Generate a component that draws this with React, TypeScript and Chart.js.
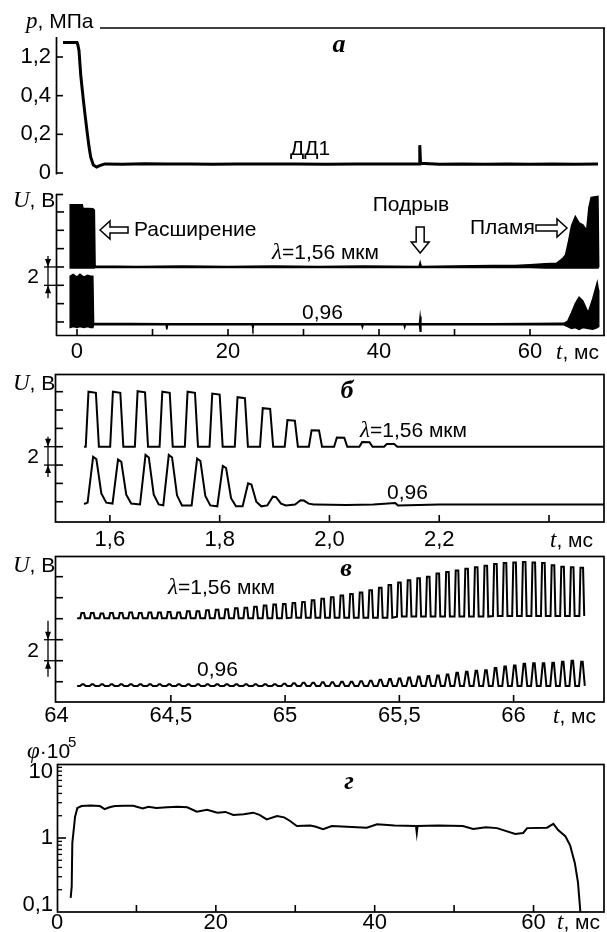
import React, { useEffect, useRef } from "react";
import { Chart, registerables } from "chart.js";

Chart.register(...registerables);

const PAGE_W = 607;
const PAGE_H = 932;
const SANS = '"Liberation Sans", Arial, sans-serif';
const SERIF = '"Liberation Serif", "Times New Roman", serif';
const F_TEXT = `21px ${SANS}`;
const F_SUP = `15px ${SANS}`;
const F_ITAL = `italic 23px ${SERIF}`;
const F_LETTER = `italic bold 26px ${SERIF}`;

// ---------------- Panel а : pressure p (MPa) vs t (ms) ----------------
const pressureTicks = [0, 0.2, 0.4, 1.2];
const pressureTickLabels = ["0", "0,2", "0,4", "1,2"];
const pressureKnots = [0, 0.2, 0.4, 1.2, 1.6]; // axis is drawn with equal spacing between labelled values
const aPressure: [number, number][] = [
  [-1.85, 1.35], [-1.0, 1.35], [0.0, 1.35], [0.1, 1.33], [0.26, 1.27], [0.5, 0.82],
  [0.84, 0.378], [1.1, 0.29], [1.36, 0.206], [1.6, 0.134], [1.81, 0.083], [2.16, 0.041],
  [2.6, 0.031], [3.0, 0.038], [3.7, 0.047], [6, 0.045], [9, 0.048], [12, 0.046],
  [15, 0.047], [18, 0.045], [21, 0.047], [25, 0.046], [29, 0.047], [33, 0.045],
  [37, 0.047], [41, 0.046], [45.3, 0.046], [45.4, 0.144], [45.5, 0.05], [48, 0.045],
  [51, 0.047], [54, 0.045], [57, 0.047], [60, 0.045], [63, 0.047], [66, 0.045], [69.0, 0.046],
];

// Panel а : U envelopes [t, max, min] (dense oscillation drawn as a filled band)
const aUpperEnv: [number, number, number][] = [
  [-0.9, 6.0, 6.0], [-0.9, 12.8, 5.9], [0.7, 12.8, 5.9], [0.8, 12.4, 5.9], [2.1, 12.35, 5.9],
  [2.3, 12.2, 5.9], [2.4, 6.1, 5.95], [8, 6.05, 5.95], [14, 6.1, 5.95], [20, 6.05, 5.95],
  [26, 6.1, 5.95], [32, 6.05, 5.95], [38, 6.1, 5.95], [45.3, 6.05, 5.95], [45.45, 6.5, 5.95],
  [45.6, 6.05, 5.95], [50, 6.1, 5.95], [55, 6.15, 5.95], [58, 6.15, 5.95], [60, 6.25, 5.95],
  [62, 6.35, 5.9], [63.5, 6.4, 5.9], [64.3, 6.9, 5.9], [64.7, 7.3, 5.9], [65.1, 8.8, 5.9],
  [65.5, 10.5, 5.9], [66.0, 11.5, 5.9], [66.5, 10.8, 5.9], [67.0, 10.6, 5.9], [67.5, 10.0, 5.9],
  [67.8, 12.5, 5.9], [68.1, 13.6, 5.9], [69.0, 13.7, 5.9], [69.1, 6.0, 6.0],
];
const aLowerEnv: [number, number, number][] = [
  [-0.9, -0.2, -0.2], [-0.9, 5.0, -0.6], [-0.5, 5.2, -0.5], [0.0, 4.9, -0.6], [0.4, 5.2, -0.5],
  [0.9, 4.9, -0.6], [1.4, 5.1, -0.5], [1.8, 5.0, -0.6], [2.1, 5.0, -0.6], [2.2, -0.15, -0.3],
  [11.8, -0.2, -0.3], [11.9, -0.2, -0.8], [12.0, -0.2, -0.3], [23.2, -0.2, -0.3], [23.3, -0.2, -0.7],
  [23.4, -0.2, -0.3], [37.7, -0.2, -0.3], [37.8, -0.2, -0.6], [37.9, -0.2, -0.3], [43.3, -0.2, -0.3],
  [43.4, -0.2, -0.6], [43.5, -0.2, -0.3], [45.35, -0.2, -0.3], [45.45, 0.6, -1.0], [45.55, -0.2, -0.3],
  [55, -0.2, -0.3], [64.5, -0.15, -0.3], [65.0, 0.1, -0.5], [65.5, 1.0, -0.7], [66.0, 2.0, -0.6],
  [66.5, 2.7, -0.8], [67.0, 2.3, -0.6], [67.7, 1.0, -0.7], [68.3, 2.5, -0.8], [68.9, 4.3, -0.6],
  [69.05, 3.5, -0.5], [69.1, -0.2, -0.2],
];
const aXTicks = [0, 10, 20, 30, 40, 50, 60];
const aXLabelled = [0, 20, 40, 60];
const uTicksA = [0, 2, 4, 6, 8, 10, 12];

// ---------------- Panel б ----------------
const bUpperPeakT = [1.5685, 1.613, 1.658, 1.703, 1.749, 1.794, 1.84, 1.886, 1.931, 1.975, 2.021, 2.067, 2.112];
const bUpperPeakU = [12.0, 12.0, 12.05, 12.0, 12.0, 11.8, 11.4, 10.2, 8.9, 7.8, 7.0, 6.5, 6.3];
const bUpperValley = [6.0, 6.0, 6.0, 6.0, 6.0, 6.0, 6.0, 6.0, 6.0, 6.0, 6.0, 6.0, 6.0];
const bLowerPeakT = [1.5714, 1.6168, 1.6669, 1.7093, 1.7609, 1.8077, 1.8538, 1.8988, 1.9493];
const bLowerPeakU = [4.9, 4.6, 5.1, 5.1, 4.7, 3.9, 2.0, 0.55, 0.15];
const bLowerValley = [-0.1, -0.2, -0.3, -0.4, -0.4, -0.5, -0.5, -0.4, -0.3];
const bLowerTail: [number, number][] = [[1.975, -0.3], [2.03, -0.35], [2.08, -0.3], [2.12, -0.15], [2.125, -0.4], [2.2, -0.3], [2.5, -0.3]];
const bXTicks = [1.6, 1.8, 2.0, 2.2, 2.4];
const uTicksB = [0, 2, 4, 6, 8, 10, 12];

// ---------------- Panel в ----------------
const vFirstCenter = 64.115;
const vPeriod = 0.042;
const vUpperPeaks = [
  6.55, 6.55, 6.5, 6.55, 6.55, 6.6, 6.55, 6.6, 6.6, 6.65,
  6.6, 6.7, 6.7, 6.8, 6.85, 6.9, 7.0, 7.05, 7.15, 7.25,
  7.35, 7.4, 7.5, 7.6, 7.75, 7.9, 8.05, 8.2, 8.35, 8.5,
  8.7, 8.95, 9.2, 9.45, 9.65, 9.85, 10.0, 10.3, 10.45, 10.6,
  10.75, 10.9, 11.05, 11.2, 11.3, 11.35, 11.4, 11.35, 11.3, 11.1,
  10.95, 10.9, 10.85,
];
const vUpperValleys = [
  6.05, 6.05, 6.05, 6.05, 6.05, 6.05, 6.05, 6.05, 6.05, 6.05,
  6.05, 6.05, 6.05, 6.05, 6.05, 6.05, 6.05, 6.05, 6.05, 6.05,
  6.05, 6.05, 6.1, 6.1, 6.1, 6.1, 6.1, 6.1, 6.1, 6.1,
  6.1, 6.1, 6.1, 6.2, 6.2, 6.2, 6.2, 6.2, 6.2, 6.2,
  6.2, 6.2, 6.2, 6.25, 6.25, 6.25, 6.25, 6.25, 6.25, 6.25,
  6.25, 6.25, 6.25,
];
const vLowerPeaks = [
  -0.25, -0.25, -0.25, -0.25, -0.25, -0.25, -0.25, -0.25, -0.25, -0.25,
  -0.25, -0.25, -0.25, -0.25, -0.25, -0.25, -0.25, -0.25, -0.25, -0.25,
  -0.25, -0.2, -0.15, -0.1, -0.1, -0.05, -0.05, 0.0, 0.0, 0.05,
  0.1, 0.2, 0.25, 0.3, 0.4, 0.5, 0.55, 0.6, 0.7, 0.85,
  0.95, 1.05, 1.1, 1.3, 1.45, 1.55, 1.7, 1.75, 1.75, 1.8,
  1.9, 2.0, 1.9,
];
const vLowerValley = -0.4;
const vXTicks = [64, 64.5, 65, 65.5, 66];
const uTicksV = [0, 2, 4, 6, 8, 10];

// ---------------- Panel г : φ·10^5 (log) ----------------
const gPhi: [number, number][] = [
  [1.72, 0.155], [1.85, 0.22], [1.93, 0.86], [2.14, 1.4], [2.27, 1.92], [2.56, 2.54], [3.1, 2.7],
  [4.2, 2.75], [5.4, 2.7], [6.0, 2.46], [6.6, 2.6], [7.3, 2.7], [8.5, 2.72], [9.6, 2.73],
  [10.8, 2.5], [11.5, 2.65], [12.5, 2.55], [13.9, 2.6], [15.2, 2.65], [16.4, 2.6], [17.6, 2.27],
  [18.9, 2.4], [20.2, 2.2], [21.2, 2.25], [22.2, 2.05], [23.5, 2.1], [24.7, 2.2], [25.5, 2.05],
  [26.4, 1.78], [27.7, 1.98], [28.6, 1.9], [29.3, 1.71], [30.2, 1.45], [31.9, 1.47], [32.6, 1.42],
  [33.5, 1.32], [34.6, 1.45], [36.5, 1.42], [39.0, 1.38], [40.3, 1.53], [42.5, 1.47], [45.2, 1.45],
  [45.3, 1.17], [45.4, 1.45], [48, 1.48], [51.1, 1.45], [52.4, 1.32], [54, 1.4], [55.4, 1.36],
  [57.7, 1.13], [58.7, 1.17], [59.2, 1.36], [61.7, 1.38], [62.5, 1.55], [63.1, 1.28], [64.0, 1.06],
  [64.6, 0.8], [65.2, 0.46], [65.6, 0.25], [65.9, 0.1],
];
const gXTicks = [0, 10, 20, 30, 40, 50, 60];
const gMajorY = [0.1, 1, 10];
const gMajorLabels = ["0,1", "1", "10"];
const gMinorY = [0.2, 0.3, 0.4, 0.5, 0.6, 0.7, 0.8, 0.9, 2, 3, 4, 5, 6, 7, 8, 9];

// ---------------- helpers ----------------
function pToAxis(p: number) {
  for (let i = 1; i < pressureKnots.length; i++) {
    if (p <= pressureKnots[i] || i === pressureKnots.length - 1) {
      const a = pressureKnots[i - 1];
      const b = pressureKnots[i];
      return i - 1 + (p - a) / (b - a);
    }
  }
  return 0;
}

function buildWave(centers: number[], peaks: number[], valleys: number[], shape: [number, number][], lead: [number, number][], tail: [number, number][]) {
  const pts: [number, number][] = [...lead];
  centers.forEach((c, i) => {
    for (const [dt, f] of shape) pts.push([c + dt, valleys[i] + f * (peaks[i] - valleys[i])]);
  });
  return pts.concat(tail);
}

const line = (pts: [number, number][], w = 2, extra: any = {}) => ({
  data: pts.map(([x, y]) => ({ x, y })),
  borderColor: "#000",
  backgroundColor: "#000",
  borderWidth: w,
  pointRadius: 0,
  tension: 0,
  fill: false,
  ...extra,
});

function seg(ctx: CanvasRenderingContext2D, x1: number, y1: number, x2: number, y2: number) {
  ctx.beginPath();
  ctx.moveTo(x1, y1);
  ctx.lineTo(x2, y2);
  ctx.stroke();
}
function poly(ctx: CanvasRenderingContext2D, pts: [number, number][], fill = false) {
  ctx.beginPath();
  pts.forEach(([x, y], i) => (i ? ctx.lineTo(x, y) : ctx.moveTo(x, y)));
  ctx.closePath();
  if (fill) ctx.fill();
  else ctx.stroke();
}
function rich(ctx: CanvasRenderingContext2D, x: number, y: number, parts: [string, string][]) {
  ctx.textAlign = "left";
  ctx.textBaseline = "alphabetic";
  let cx = x;
  for (const [t, f] of parts) {
    ctx.font = f;
    ctx.fillText(t, cx, y);
    cx += ctx.measureText(t).width;
  }
}
function text(ctx: CanvasRenderingContext2D, s: string, x: number, y: number, font = F_TEXT, align: CanvasTextAlign = "left") {
  ctx.font = font;
  ctx.textAlign = align;
  ctx.textBaseline = "middle";
  ctx.fillText(s, x, y);
}
function arrowLeft(ctx: CanvasRenderingContext2D, tipX: number, tailX: number, y: number) {
  const hl = 10, hh = 9, sh = 3;
  poly(ctx, [[tipX, y], [tipX + hl, y - hh], [tipX + hl, y - sh], [tailX, y - sh], [tailX, y + sh], [tipX + hl, y + sh], [tipX + hl, y + hh]]);
}
function arrowRight(ctx: CanvasRenderingContext2D, tailX: number, tipX: number, y: number) {
  const hl = 10, hh = 9, sh = 3;
  poly(ctx, [[tipX, y], [tipX - hl, y - hh], [tipX - hl, y - sh], [tailX, y - sh], [tailX, y + sh], [tipX - hl, y + sh], [tipX - hl, y + hh]]);
}
function arrowDown(ctx: CanvasRenderingContext2D, x: number, tailY: number, tipY: number) {
  const hl = 11, hh = 9, sh = 4;
  poly(ctx, [[x, tipY], [x - hh, tipY - hl], [x - sh, tipY - hl], [x - sh, tailY], [x + sh, tailY], [x + sh, tipY - hl], [x + hh, tipY - hl]]);
}
function scaleBar(ctx: CanvasRenderingContext2D, axisX: number, ya: number, yb: number, upExt: number, downExt: number) {
  const x = 48;
  ctx.lineWidth = 1.3;
  seg(ctx, x - 4, ya, axisX, ya);
  seg(ctx, x - 4, yb, axisX, yb);
  seg(ctx, x, ya - upExt, x, yb + downExt);
  poly(ctx, [[x, ya], [x - 3, ya - 8], [x + 3, ya - 8]], true);
  poly(ctx, [[x, yb], [x - 3, yb + 8], [x + 3, yb + 8]], true);
  text(ctx, "2", 33, (ya + yb) / 2 + 1, F_TEXT, "center");
}
function frame(ctx: CanvasRenderingContext2D, ch: any) {
  const { left, right, top, bottom } = ch.chartArea;
  ctx.lineWidth = 1.7;
  ctx.strokeRect(left + 0.5, top + 0.5, right - left - 1.5, bottom - top - 0.5);
}
function xInnerTicks(ctx: CanvasRenderingContext2D, ch: any, ticks: number[], len = 7) {
  const xs = ch.scales.x;
  const { left, right, bottom } = ch.chartArea;
  ctx.lineWidth = 1.6;
  for (const v of ticks) {
    const x = xs.getPixelForValue(v);
    if (x <= left + 2 || x >= right - 2) continue;
    seg(ctx, x, bottom, x, bottom - len);
  }
}
function yInnerTicks(ctx: CanvasRenderingContext2D, ch: any, ticks: number[], len = 8) {
  const ys = ch.scales.y;
  const { left, top, bottom } = ch.chartArea;
  ctx.lineWidth = 1.6;
  for (const v of ticks) {
    const y = ys.getPixelForValue(v);
    if (y <= top + 1 || y >= bottom - 1) continue;
    seg(ctx, left, y, left + len, y);
  }
}
function tLabel(ctx: CanvasRenderingContext2D, x: number, baseline: number) {
  rich(ctx, x, baseline, [["t", F_ITAL], [", мс", F_TEXT]]);
}
function uLabel(ctx: CanvasRenderingContext2D, baseline: number) {
  rich(ctx, 13, baseline, [["U", F_ITAL], [", В", F_TEXT]]);
}
function lambdaLabel(ctx: CanvasRenderingContext2D, x: number, baseline: number) {
  rich(ctx, x, baseline, [["λ", F_ITAL], ["=1,56 мкм", F_TEXT]]);
}

type Spec = {
  top: number;
  height: number;
  area: { left: number; right: number; top: number; bottom: number };
  x: { min: number; max: number; ticks: number[]; label: (v: number) => string; pad: number; show: boolean };
  y: { type: string; min: number; max: number; ticks: number[]; label?: (v: number, i: number) => string; pad: number };
  datasets: any[];
  decor: (ctx: CanvasRenderingContext2D, ch: any, oy: number) => void;
};

function makeConfig(spec: Spec): any {
  const { top, height, area } = spec;
  const xH = top + height - area.bottom;
  const tickFont = { family: SANS, size: 22, lineHeight: 1 };
  return {
    type: "line",
    data: { datasets: spec.datasets },
    options: {
      responsive: false,
      animation: false,
      devicePixelRatio: 1,
      events: [],
      layout: { padding: { left: 0, right: PAGE_W - area.right, top: area.top - top, bottom: 0 } },
      plugins: { legend: { display: false }, tooltip: { enabled: false } },
      scales: {
        x: {
          type: "linear",
          min: spec.x.min,
          max: spec.x.max,
          display: spec.x.show,
          grid: { display: false, drawTicks: false },
          border: { display: false },
          afterBuildTicks: (s: any) => {
            s.ticks = spec.x.ticks.map((v) => ({ value: v }));
          },
          afterFit: (s: any) => {
            s.height = xH;
            s.paddingLeft = 0;
            s.paddingRight = 0;
          },
          ticks: {
            display: spec.x.show,
            autoSkip: false,
            maxRotation: 0,
            minRotation: 0,
            padding: spec.x.pad,
            color: "#000",
            font: tickFont,
            callback: (v: any) => spec.x.label(Number(v)),
          },
        },
        y: {
          type: spec.y.type,
          min: spec.y.min,
          max: spec.y.max,
          grid: { display: false, drawTicks: false },
          border: { display: false },
          afterBuildTicks: (s: any) => {
            s.ticks = spec.y.ticks.map((v) => ({ value: v }));
          },
          afterFit: (s: any) => {
            s.width = area.left;
            s.paddingTop = 0;
            s.paddingBottom = 0;
          },
          ticks: {
            display: !!spec.y.label,
            padding: spec.y.pad,
            color: "#000",
            font: tickFont,
            autoSkip: false,
            callback: (v: any, i: number) => (spec.y.label ? spec.y.label(Number(v), i) : ""),
          },
        },
      },
    },
    plugins: [
      {
        id: "decor",
        afterDraw: (ch: any) => {
          const ctx = ch.ctx as CanvasRenderingContext2D;
          ctx.save();
          ctx.strokeStyle = "#000";
          ctx.fillStyle = "#000";
          spec.decor(ctx, ch, top);
          ctx.restore();
        },
      },
    ],
  };
}

// ---------------- specs ----------------
const aXRange = { min: -2.78, max: 69.93 };

const specPressure: Spec = {
  top: 0,
  height: 185,
  area: { left: 56, right: 605, top: 28, bottom: 173 },
  x: { ...aXRange, ticks: aXTicks, label: () => "", pad: 0, show: false },
  y: {
    type: "linear",
    min: 0,
    max: 3.75,
    ticks: pressureTicks.map(pToAxis),
    label: (_v, i) => pressureTickLabels[i],
    pad: 5,
  },
  datasets: [line(aPressure.map(([t, p]) => [t, pToAxis(p)] as [number, number]), 3)],
  decor: (ctx, ch) => {
    const { left, right, top, bottom } = ch.chartArea;
    const ys = ch.scales.y;
    ctx.lineWidth = 1.7;
    seg(ctx, 100, top, right, top);
    seg(ctx, right - 1, top, right - 1, ch.height);
    seg(ctx, left + 0.5, 37, left + 0.5, bottom + 1.5);
    ctx.lineWidth = 1.6;
    for (const p of pressureTicks) {
      const y = ys.getPixelForValue(pToAxis(p));
      seg(ctx, left, y, left + 7, y);
    }
    rich(ctx, 26, 28, [["p", F_ITAL], [", МПа", F_TEXT]]);
    text(ctx, "а", 339, 45, F_LETTER, "center");
    text(ctx, "ДД1", 310, 149, F_TEXT, "center");
  },
};

const specAU: Spec = {
  top: 185,
  height: 185,
  area: { left: 56, right: 605, top: 194, bottom: 336 },
  x: { ...aXRange, ticks: aXTicks, label: (v) => (aXLabelled.includes(v) ? String(v) : ""), pad: 5, show: true },
  y: { type: "linear", min: -1.53, max: 13.96, ticks: uTicksA, pad: 0 },
  datasets: [
    line(aUpperEnv.map(([t, mx]) => [t, mx] as [number, number]), 1.5, { fill: "+1" }),
    line(aUpperEnv.map(([t, , mn]) => [t, mn] as [number, number]), 1.5),
    line(aLowerEnv.map(([t, mx]) => [t, mx] as [number, number]), 1.5, { fill: "+1" }),
    line(aLowerEnv.map(([t, , mn]) => [t, mn] as [number, number]), 1.5),
  ],
  decor: (ctx, ch, oy) => {
    const L = (y: number) => y - oy;
    const { left, right, top, bottom } = ch.chartArea;
    const ys = ch.scales.y;
    const xs = ch.scales.x;
    ctx.lineWidth = 1.7;
    seg(ctx, left + 0.5, top, left + 0.5, bottom);
    seg(ctx, left, top + 0.5, left + 7, top + 0.5);
    seg(ctx, right - 1, 0, right - 1, bottom);
    seg(ctx, left, bottom - 0.5, right, bottom - 0.5);
    yInnerTicks(ctx, ch, uTicksA);
    xInnerTicks(ctx, ch, aXTicks);
    uLabel(ctx, L(207));
    scaleBar(ctx, left, ys.getPixelForValue(6), ys.getPixelForValue(4), 11, 13);
    ctx.lineWidth = 1.5;
    arrowLeft(ctx, 100, 128, L(230));
    text(ctx, "Расширение", 134, L(230));
    text(ctx, "Подрыв", 411, L(205), F_TEXT, "center");
    arrowDown(ctx, xs.getPixelForValue(45.45), L(227), L(253));
    text(ctx, "Пламя", 470, L(228));
    arrowRight(ctx, 536, 567, L(228));
    lambdaLabel(ctx, 272, L(259));
    text(ctx, "0,96", 302, L(313));
    tLabel(ctx, 556, L(359));
  },
};

const specB: Spec = {
  top: 370,
  height: 185,
  area: { left: 55, right: 605, top: 374, bottom: 522 },
  x: { min: 1.5, max: 2.502, ticks: bXTicks, label: (v) => (v === 2.4 ? "" : v.toFixed(1).replace(".", ",")), pad: 7, show: true },
  y: { type: "linear", min: -2.21, max: 13.93, ticks: uTicksB, pad: 0 },
  datasets: [
    line(
      buildWave(bUpperPeakT, bUpperPeakU, bUpperValley,
        [[-0.0125, 0], [-0.0075, 1], [0.006, 0.98], [0.0115, 0]],
        [[1.553, 6.0]], [[2.13, 6.0], [2.5, 6.0]])
    ),
    line(
      buildWave(bLowerPeakT, bLowerPeakU, bLowerValley,
        [[-0.012, 0], [-0.006, 0.6], [-0.002, 1], [0.004, 0.95], [0.013, 0.2], [0.022, 0]],
        [[1.553, -0.25]], bLowerTail)
    ),
  ],
  decor: (ctx, ch, oy) => {
    const L = (y: number) => y - oy;
    const ys = ch.scales.y;
    frame(ctx, ch);
    yInnerTicks(ctx, ch, uTicksB);
    xInnerTicks(ctx, ch, bXTicks);
    uLabel(ctx, L(390));
    scaleBar(ctx, ch.chartArea.left, ys.getPixelForValue(6), ys.getPixelForValue(4), 10, 12);
    text(ctx, "б", 347, L(391), F_LETTER, "center");
    lambdaLabel(ctx, 360, L(437));
    text(ctx, "0,96", 387, L(493));
    tLabel(ctx, 550, L(547));
  },
};

const vCenters = vUpperPeaks.map((_, i) => vFirstCenter + i * vPeriod);
const specV: Spec = {
  top: 555,
  height: 180,
  area: { left: 55, right: 605, top: 556, bottom: 702 },
  x: { min: 63.993, max: 66.4, ticks: vXTicks, label: (v) => String(v).replace(".", ","), pad: 3, show: true },
  y: { type: "linear", min: -1.93, max: 11.97, ticks: uTicksV, pad: 0 },
  datasets: [
    line(
      buildWave(vCenters, vUpperPeaks, vUpperValleys,
        [[-0.0113, 0], [-0.0063, 1], [0.005, 1], [0.0101, 0]],
        [[64.09, 6.05]], [])
    ),
    line(
      buildWave(vCenters, vLowerPeaks, vCenters.map(() => vLowerValley),
        [[-0.0126, 0], [-0.0034, 1], [0.0034, 1], [0.0126, 0]],
        [[64.09, vLowerValley]], [])
    ),
  ],
  decor: (ctx, ch, oy) => {
    const L = (y: number) => y - oy;
    const ys = ch.scales.y;
    frame(ctx, ch);
    yInnerTicks(ctx, ch, uTicksV);
    xInnerTicks(ctx, ch, vXTicks);
    uLabel(ctx, L(572));
    scaleBar(ctx, ch.chartArea.left, ys.getPixelForValue(4), ys.getPixelForValue(2), 19, 16);
    text(ctx, "в", 346, L(569), F_LETTER, "center");
    lambdaLabel(ctx, 168, L(594));
    text(ctx, "0,96", 197, L(670));
    tLabel(ctx, 553, L(723));
  },
};

const specG: Spec = {
  top: 735,
  height: 197,
  area: { left: 57, right: 605, top: 764, bottom: 912 },
  x: { min: 0, max: 69.0, ticks: gXTicks, label: (v) => (aXLabelled.includes(v) ? String(v) : ""), pad: 0, show: true },
  y: { type: "logarithmic", min: 0.1, max: 10, ticks: gMajorY.concat(gMinorY), pad: 0 },
  datasets: [line(gPhi)],
  decor: (ctx, ch, oy) => {
    const L = (y: number) => y - oy;
    const ys = ch.scales.y;
    const { left, top, bottom } = ch.chartArea;
    frame(ctx, ch);
    xInnerTicks(ctx, ch, gXTicks);
    ctx.lineWidth = 1.3;
    for (const v of gMinorY) {
      const y = ys.getPixelForValue(v);
      seg(ctx, left, y, left + 5, y);
    }
    ctx.lineWidth = 1.6;
    for (const v of gMajorY) {
      const y = ys.getPixelForValue(v);
      if (y > top + 1 && y < bottom - 1) seg(ctx, left, y, left + 9, y);
    }
    gMajorY.forEach((v, i) => {
      const y = Math.min(Math.max(ys.getPixelForValue(v), top + 8), bottom - 7);
      ctx.font = `22px ${SANS}`;
      ctx.textAlign = "right";
      ctx.textBaseline = "middle";
      ctx.fillText(gMajorLabels[i], 53, y);
    });
    rich(ctx, 27, L(758), [["φ", F_ITAL], ["·10", F_TEXT]]);
    ctx.font = F_SUP;
    ctx.textAlign = "left";
    ctx.fillText("5", 68, L(747));
    text(ctx, "г", 349, L(782), F_LETTER, "center");
    tLabel(ctx, 557, L(929));
  },
};

const specs: Spec[] = [specPressure, specAU, specB, specV, specG];

function ChartCanvas({ spec }: { spec: Spec }) {
  const ref = useRef<HTMLCanvasElement>(null);
  useEffect(() => {
    if (!ref.current) return;
    const chart = new Chart(ref.current, makeConfig(spec));
    return () => chart.destroy();
  }, [spec]);
  return (
    <canvas
      ref={ref}
      width={PAGE_W}
      height={spec.height}
      style={{ position: "absolute", left: 0, top: spec.top, width: PAGE_W, height: spec.height, display: "block" }}
    />
  );
}

export default function App() {
  return (
    <div style={{ position: "fixed", left: 0, top: 0, width: PAGE_W, height: PAGE_H, background: "#fff", overflow: "hidden" }}>
      {specs.map((s, i) => (
        <ChartCanvas key={i} spec={s} />
      ))}
    </div>
  );
}
